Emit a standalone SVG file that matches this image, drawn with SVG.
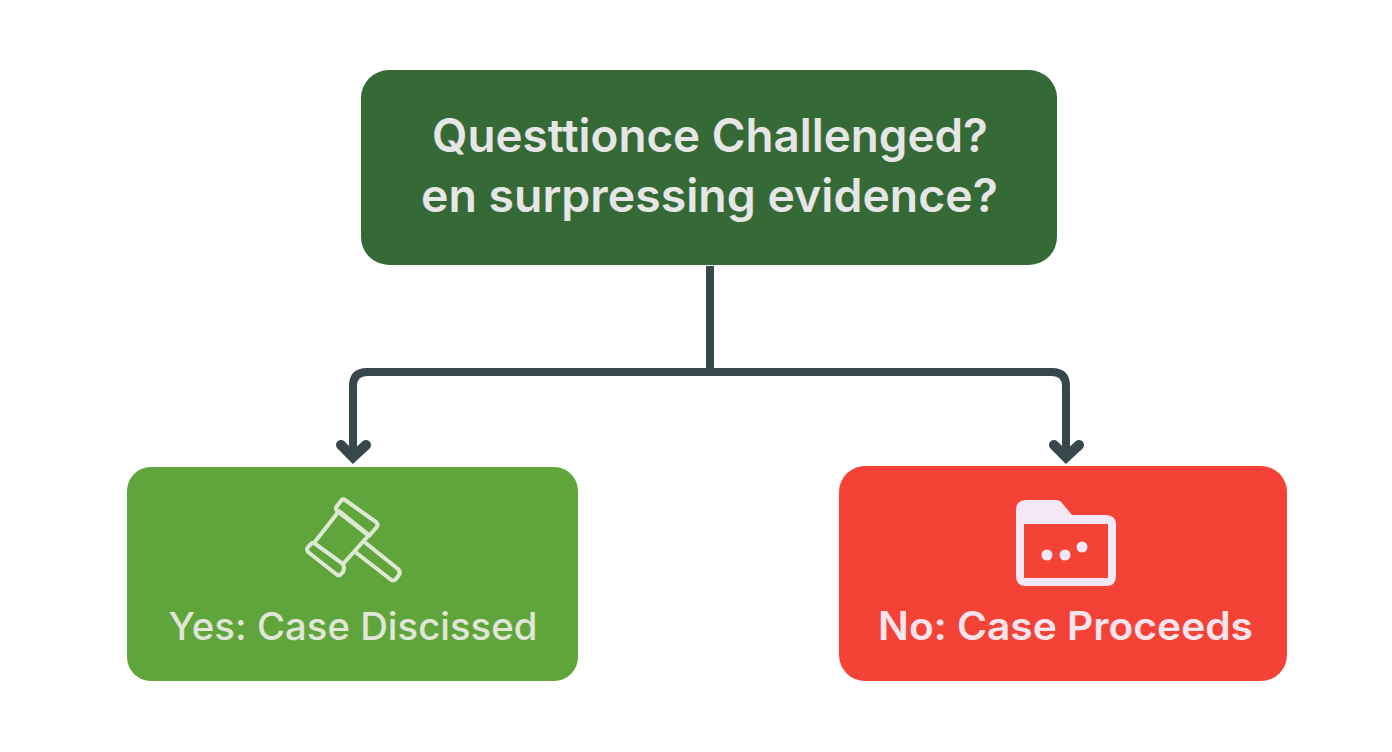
<svg xmlns="http://www.w3.org/2000/svg" width="1392" height="752" viewBox="0 0 1392 752">
<style>
.t{font-family:Inter,"Liberation Sans",sans-serif;text-anchor:middle;font-weight:600}
.top{font-size:46px;fill:#e6e6e6}
.yes{font-size:38px;fill:#e0e6d8;font-weight:500}
.no{font-size:39px;fill:#f7e4ec}
.c{fill:none;stroke:#37474c;stroke-width:8}
.h{stroke-width:10;stroke-linecap:round;stroke-linejoin:miter}
</style>
<rect width="1392" height="752" fill="#ffffff"/>
<g id="connectors" class="c">
<path d="M710 266V372"/>
<path d="M353 458V386Q353 372 367 372H1052Q1066 372 1066 386V458"/>
<path class="h" d="M341 445L353 457L366 445"/>
<path class="h" d="M1054 445L1066 457L1079 445"/>
</g>
<g id="question">
<rect x="361" y="70" width="696" height="195" rx="28" fill="#356a37"/>
<text class="t top" x="710" y="152" textLength="556" lengthAdjust="spacingAndGlyphs">Questtionce Challenged?</text>
<text class="t top" x="709.500" y="212" textLength="577" lengthAdjust="spacingAndGlyphs">en surpressing evidence?</text>
</g>
<g id="yes">
<rect x="127" y="467" width="451" height="214" rx="24" fill="#60a53c"/>
<g fill="none" stroke="#dfe8d4" stroke-width="4" stroke-linejoin="round">
<path d="M345 500L376 522Q379 525 376 528L369 536L337 511Q335 508 337 506L341 501Q343 498 345 500Z"/>
<path d="M339 511L369 535L343 564L314 543Z"/>
<path d="M314 543L343 564Q345 568 343 572L340 575Q338 576 336 574L308 552Q306 549 308 547L312 543Z"/>
<path d="M362 540L398 569Q401 572 399 575L396 579Q393 582 390 579L354 551"/>
</g>
<text class="t yes" x="353" y="640" textLength="369" lengthAdjust="spacingAndGlyphs">Yes: Case Discissed</text>
</g>
<g id="no">
<rect x="839" y="466" width="448" height="215" rx="26" fill="#f44336"/>
<path fill-rule="evenodd" fill="#f5e8f6" d="M1026 500H1056Q1060 500 1062 503L1072 515H1106Q1116 515 1116 525V576Q1116 586 1106 586H1026Q1016 586 1016 576V510Q1016 500 1026 500ZM1024 524V578H1108V524Z"/>
<circle cx="1047" cy="555" r="5.500" fill="#f5e8f6"/>
<circle cx="1065" cy="555" r="5.500" fill="#f5e8f6"/>
<circle cx="1082" cy="547" r="5.500" fill="#f5e8f6"/>
<text class="t no" x="1065.500" y="640" textLength="375" lengthAdjust="spacingAndGlyphs">No: Case Proceeds</text>
</g>
</svg>
